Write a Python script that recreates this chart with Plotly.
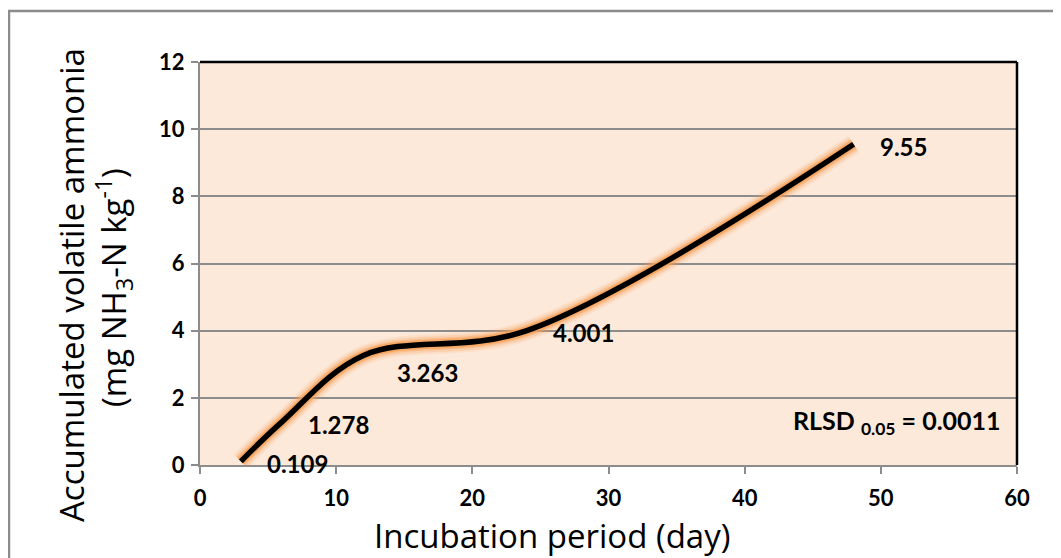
import plotly.graph_objects as go

days = [3, 6, 12, 24, 48]
ammonia = [0.109, 1.278, 3.263, 4.001, 9.55]
labels = ["0.109", "1.278", "3.263", "4.001", "9.55"]
x_ticks = [0, 10, 20, 30, 40, 50, 60]
y_ticks = [0, 2, 4, 6, 8, 10, 12]

# page offset (body margin 8px) accounted: figure coords = page coords - 8
W, H = 1053, 550
ML, MR, MT, MB = 192, 44, 54, 93
PW, PH = W - ML - MR, H - MT - MB


def px(xp):  # page x -> paper
    return (xp - 8 - ML) / PW


def py(yp):  # page y -> paper
    return (MT + PH - (yp - 8)) / PH


SM = 1.0
fig = go.Figure()
for w, a in [(20, 0.12), (16, 0.22), (12, 0.4), (9, 0.7)]:
    fig.add_trace(go.Scatter(x=days, y=ammonia, mode="lines",
                             line=dict(color=f"rgba(247,160,85,{a})", width=w, shape="spline", smoothing=SM),
                             hoverinfo="skip", showlegend=False))
fig.add_trace(go.Scatter(x=days, y=ammonia, mode="lines",
                         line=dict(color="black", width=5.5, shape="spline", smoothing=SM),
                         showlegend=False))

bold = dict(family="Lato", color="black", weight="bold")
shifts = [(24, -2), (24, -2), (32, -17), (24, -2), (24, -2)]
for xv, yv, t, (dx, dy) in zip(days, ammonia, labels, shifts):
    fig.add_annotation(x=xv, y=yv, text=t, showarrow=False,
                       xanchor="left", yanchor="middle", xshift=dx, yshift=dy,
                       font=dict(size=24, **bold))

fig.add_annotation(xref="paper", yref="paper", x=px(1003), y=py(422),
                   text="RLSD <sub>0.05</sub> = 0.0011", showarrow=False,
                   xanchor="right", yanchor="middle",
                   font=dict(size=25, **bold))

# axis titles
fig.add_annotation(xref="paper", yref="paper", x=px(552), y=py(535),
                   text="Incubation period (day)", showarrow=False,
                   xanchor="center", yanchor="middle",
                   font=dict(family="Open Sans", size=33, color="black"))
fig.add_annotation(xref="paper", yref="paper", x=px(71), y=py(285),
                   text="Accumulated volatile ammonia", showarrow=False, textangle=-90,
                   xanchor="center", yanchor="middle",
                   font=dict(family="Open Sans", size=33, color="black"))
fig.add_annotation(xref="paper", yref="paper", x=px(113), y=py(288),
                   text="(mg NH<sub>3</sub>-N kg<sup>-1</sup>)", showarrow=False, textangle=-90,
                   xanchor="center", yanchor="middle",
                   font=dict(family="Open Sans", size=33, color="black"))

# outer chart frame
fig.add_shape(type="rect", xref="paper", yref="paper",
              x0=px(9), x1=px(1075), y0=py(575), y1=py(11),
              line=dict(color="#8c8c8c", width=2.5), layer="below")
# top/right black border of plot area
fig.add_shape(type="line", xref="paper", yref="paper", x0=0, x1=1, y0=1, y1=1,
              line=dict(color="black", width=2.5))
fig.add_shape(type="line", xref="paper", yref="paper", x0=1, x1=1, y0=0, y1=1,
              line=dict(color="black", width=2.5))

fig.update_layout(
    width=W, height=H,
    margin=dict(l=ML, r=MR, t=MT, b=MB),
    paper_bgcolor="white", plot_bgcolor="rgb(252,233,218)",
    xaxis=dict(range=[0, 60], tickvals=x_ticks, ticktext=[str(v) for v in x_ticks],
               showgrid=False, zeroline=False, showline=True, linecolor="#8c8c8c", linewidth=2,
               ticks="outside", ticklen=7, tickcolor="#8c8c8c", tickwidth=2,
               ticklabelstandoff=6,
               tickfont=dict(size=22, **bold)),
    yaxis=dict(range=[0, 12], tickvals=y_ticks, ticktext=[str(v) for v in y_ticks],
               showgrid=True, gridcolor="#8c8c8c", gridwidth=2, zeroline=False,
               showline=True, linecolor="#8c8c8c", linewidth=2,
               ticks="outside", ticklen=7, tickcolor="#8c8c8c", tickwidth=2,
               ticklabelstandoff=2,
               tickfont=dict(size=22, **bold)),
)

fig.write_html("out.html")
